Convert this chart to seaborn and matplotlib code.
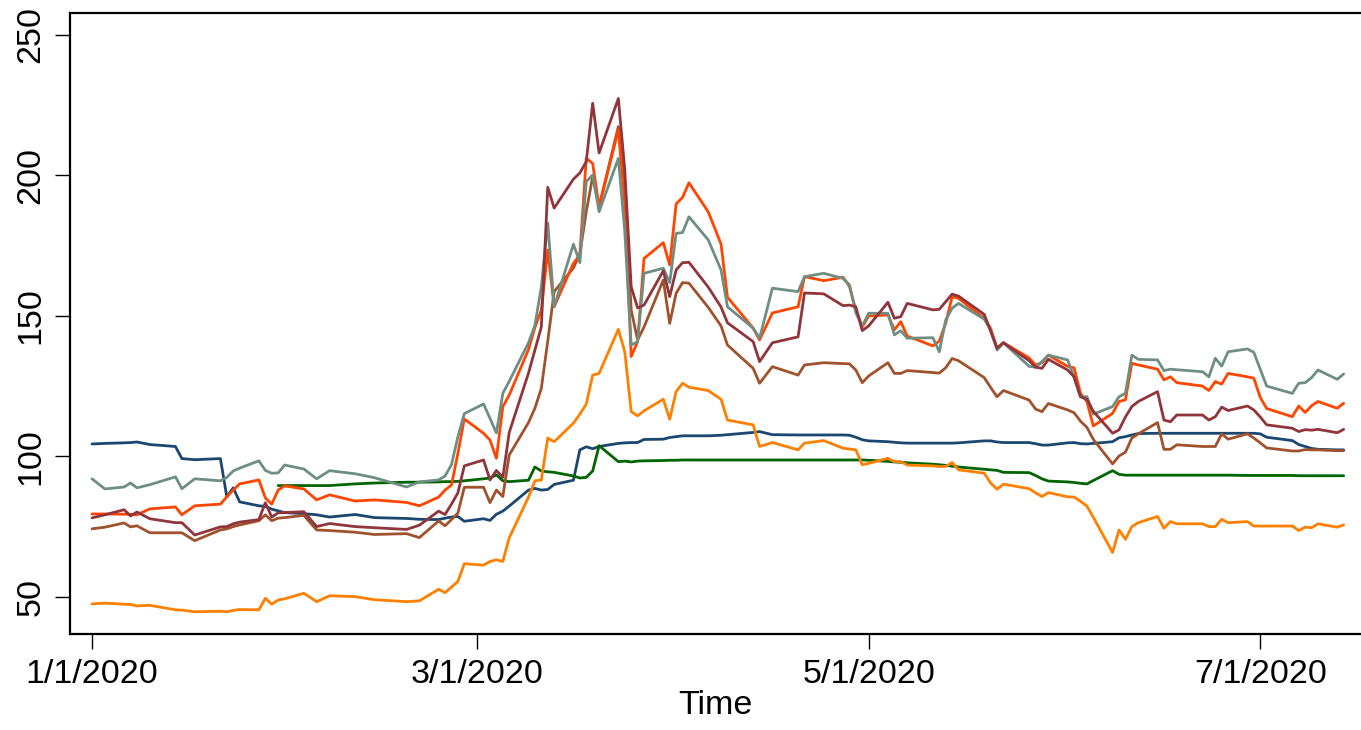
import numpy as np
import pandas as pd
import seaborn as sns
import matplotlib.pyplot as plt

nan = np.nan

# observation days per month (2020)
jan = [1, 3, 6, 7, 8, 10, 14, 15, 17, 21, 22, 23, 24, 27, 28, 29, 30, 31]
feb = [3, 5, 7, 11, 14, 19, 21, 24, 25, 26, 27, 28]
mar = [2, 3, 4, 5, 6, 9, 10, 11, 12, 13, 16, 17, 18, 19, 20, 23, 24, 25, 26, 27, 30, 31]
apr = [1, 2, 3, 6, 8, 9, 13, 14, 16, 20, 21, 24, 27, 28, 29, 30]
may = [1, 4, 5, 6, 7, 11, 12, 13, 14, 15, 19, 20, 21, 22, 26, 27, 28, 29]
jun = [1, 2, 3, 4, 5, 8, 9, 10, 11, 12, 15, 16, 17, 18, 22, 23, 24, 25, 26, 29, 30]
jul = [1, 2, 6, 7, 8, 9, 10, 13, 14]
month_days = {1: jan, 2: feb, 3: mar, 4: apr, 5: may, 6: jun, 7: jul}

navy = ([104.4, 104.6, 104.8, 104.9, 105.1, 104.2, 103.5, 99.2, 98.8, 99.2, 85.6, 88.8, 83.8, 82.4, 82.2, 81.2, 80.6, 80.0]
        + [79.6, 79.2, 78.4, 79.3, 78.2, 77.9, 77.6, 77.5, 78.0, 78.4, 78.6, 76.9]
        + [77.8, 77.2, 79.4, 80.5, 82.3, 88.0, 88.6, 88.0, 88.2, 90.0, 91.5, 102.3, 103.4, 102.7, 103.5, 104.6, 104.8, 104.9, 104.9, 106.0, 106.1, 106.7]
        + [107.0, 107.3, 107.3, 107.3, 107.5, 107.7, 108.5, 108.8, 107.7, 107.6, 107.6, 107.6, 107.6, 107.5, 106.8, 105.9]
        + [105.5, 105.2, 105.0, 104.8, 104.7, 104.7, 104.7, 104.7, 104.7, 104.8, 105.5, 105.5, 105.1, 104.9, 104.9, 104.5, 104.0, 104.0]
        + [104.8, 104.9, 104.5, 104.4, 104.6, 105.2, 106.6, 107.0, 107.6, 108.1, 108.2, 108.2, 108.2, 108.2, 108.2, 108.2, 108.2, 108.2, 108.2, 108.2, 108.2]
        + [108.0, 106.8, 105.6, 104.2, 103.5, 102.8, 102.5, 102.3, 102.3])

green = ([nan] * 16 + [89.6, 89.6]
         + [89.6, 89.6, 89.6, 90.2, 90.5, 90.8, 90.8, 90.9, 91.0, 91.0, 91.1, 91.3]
         + [92.0, 92.3, 93.4, 91.3, 91.0, 91.5, 96.2, 94.8, 94.5, 94.3, 93.0, 92.3, 92.5, 94.8, 103.8, 98.1, 98.3, 98.0, 98.3, 98.4, 98.5, 98.6]
         + [98.6, 98.7, 98.7, 98.7, 98.7, 98.7, 98.7, 98.7, 98.7, 98.7, 98.7, 98.7, 98.7, 98.7, 98.7, 98.7]
         + [98.6, 98.2, 98.0, 97.9, 97.7, 97.2, 97.0, 96.8, 96.5, 96.2, 95.4, 95.2, 95.0, 94.3, 94.2, 93.2, 92.0, 91.2]
         + [90.9, 90.7, 90.4, 90.2, 91.4, 94.9, 93.6, 93.3, 93.3, 93.3, 93.3, 93.3, 93.3, 93.3, 93.3, 93.3, 93.3, 93.3, 93.3, 93.2, 93.2]
         + [93.2, 93.2, 93.2, 93.1, 93.1, 93.1, 93.1, 93.1, 93.1])

orange = ([47.5, 47.8, 47.4, 47.3, 46.8, 47.0, 45.4, 45.3, 44.7, 44.9, 44.7, 45.2, 45.5, 45.4, 49.5, 47.4, 48.9, 49.3]
          + [51.3, 48.3, 50.4, 50.1, 49.0, 48.3, 48.6, 52.7, 51.5, 53.5, 55.5, 61.8]
          + [61.3, 62.6, 63.2, 62.6, 71.0, 85.5, 91.3, 91.6, 106.5, 105.2, 111.8, 115.0, 118.6, 128.9, 129.5, 145.2, 137.2, 115.9, 114.4, 116.2, 120.3, 113.2]
          + [123.0, 126.0, 124.6, 123.4, 120.3, 112.9, 111.2, 103.5, 104.9, 102.3, 104.7, 105.6, 102.9, 102.6, 102.3, 97.0]
          + [97.5, 99.3, 98.1, 98.1, 96.9, 96.6, 96.4, 96.4, 97.8, 95.2, 94.0, 90.5, 88.3, 90.1, 88.5, 87.0, 85.7, 87.1]
          + [85.6, 85.5, 84.0, 82.3, 78.3, 65.8, 73.8, 70.5, 75.0, 76.4, 78.6, 74.4, 76.8, 76.0, 76.0, 75.0, 75.0, 77.6, 76.4, 76.8, 75.2]
          + [75.2, 75.2, 75.2, 73.6, 74.8, 74.6, 76.0, 74.8, 75.6])

orangered = ([79.5, 79.5, 79.4, 79.4, 79.2, 81.3, 82.0, 79.2, 82.4, 83.0, 85.6, 88.0, 90.2, 91.6, 85.2, 83.0, 88.0, 89.5]
             + [88.4, 84.5, 86.3, 84.1, 84.5, 83.6, 82.4, 85.5, 88.0, 89.8, 101.0, 113.3]
             + [108.2, 105.8, 99.3, 117.7, 121.8, 138.0, 145.8, 152.0, 173.4, 153.2, 168.7, 171.6, 206.0, 204.2, 188.8, 216.1, 190.0, 135.5, 140.8, 170.4, 176.0, 168.1]
             + [189.8, 192.1, 197.3, 187.0, 175.5, 156.6, 145.6, 141.4, 151.0, 153.2, 163.9, 162.5, 163.7, 160.5, 152.0, 146.0]
             + [149.9, 150.3, 145.0, 147.9, 142.8, 139.3, 141.0, 147.3, 156.8, 156.2, 149.1, 145.5, 138.4, 140.4, 135.0, 132.5, 133.3, 136.0]
             + [132.0, 131.5, 122.4, 119.5, 110.8, 115.3, 119.5, 120.1, 133.1, 132.5, 131.0, 127.2, 128.3, 126.2, 125.0, 123.4, 126.6, 125.7, 129.5, 128.3, 127.8]
             + [121.0, 117.0, 114.1, 117.9, 115.6, 118.0, 119.5, 117.1, 118.9])

teal = ([92.0, 88.4, 89.1, 90.5, 88.8, 89.9, 92.7, 88.5, 92.0, 91.3, 92.5, 94.8, 95.8, 98.4, 95.0, 94.0, 94.1, 96.9]
        + [95.5, 92.0, 94.9, 93.8, 92.4, 89.1, 90.9, 91.6, 93.0, 97.0, 106.9, 115.2]
        + [118.6, 113.5, 108.3, 122.4, 126.7, 140.4, 146.6, 160.3, 183.0, 153.2, 175.5, 168.9, 197.7, 200.1, 187.0, 206.0, 180.0, 139.6, 140.8, 165.1, 166.9, 161.8]
        + [179.3, 179.6, 185.2, 177.0, 166.3, 153.2, 145.6, 142.0, 159.8, 158.6, 163.9, 165.1, 163.3, 161.0, 151.0, 146.4]
        + [150.9, 150.9, 143.2, 144.7, 142.0, 142.2, 137.2, 148.5, 152.7, 154.4, 148.8, 145.0, 137.8, 140.4, 132.0, 131.7, 133.7, 136.0]
        + [134.3, 128.0, 121.2, 121.2, 115.0, 117.7, 121.2, 122.4, 136.0, 134.5, 134.3, 130.5, 131.0, 130.8, 130.1, 128.3, 134.9, 132.1, 137.2, 138.2, 137.0]
        + [131.0, 125.0, 122.4, 126.0, 126.2, 128.0, 130.7, 127.4, 129.3])

maroon = ([78.1, 79.2, 81.0, 78.8, 80.2, 77.8, 76.4, 76.4, 72.0, 74.9, 75.0, 76.0, 76.6, 77.5, 83.5, 78.4, 79.9, 80.0]
          + [80.3, 75.0, 76.1, 75.0, 74.6, 74.0, 75.5, 80.5, 79.3, 83.0, 87.0, 96.6]
          + [98.7, 91.6, 95.0, 92.5, 108.5, 129.6, 137.8, 146.0, 195.7, 188.3, 198.6, 200.8, 204.8, 225.6, 207.9, 227.3, 201.9, 160.3, 152.8, 153.8, 166.0, 156.8]
          + [166.3, 168.9, 169.0, 160.2, 153.1, 147.5, 140.8, 133.7, 140.4, 142.5, 158.1, 157.8, 153.6, 153.8, 153.2, 144.7]
          + [146.4, 154.8, 149.1, 149.7, 154.4, 152.1, 152.3, 155.0, 157.7, 157.0, 150.5, 144.5, 138.5, 140.4, 134.0, 131.7, 131.3, 134.5]
          + [130.7, 128.3, 121.2, 120.3, 116.0, 108.2, 109.4, 114.0, 117.7, 119.5, 123.0, 112.9, 112.3, 114.7, 114.7, 112.9, 114.1, 117.5, 116.3, 117.9, 116.5]
          + [114.0, 111.2, 110.0, 108.8, 109.5, 109.3, 109.6, 108.4, 109.6])

sienna = ([74.2, 74.8, 76.3, 74.9, 75.3, 72.8, 72.8, 72.8, 70.0, 73.8, 74.2, 75.0, 75.6, 77.1, 79.2, 77.1, 78.0, 78.2]
          + [79.0, 73.8, 73.6, 73.0, 72.2, 72.5, 71.1, 77.0, 75.3, 77.5, 79.8, 89.0]
          + [89.0, 83.5, 88.0, 85.7, 100.5, 112.0, 117.1, 124.2, 141.0, 158.6, 167.0, 172.0, 187.0, 199.5, 188.8, 217.3, 193.6, 152.0, 141.4, 146.0, 162.7, 147.3]
          + [158.0, 161.8, 161.6, 153.0, 146.4, 139.6, 131.3, 126.0, 131.9, 128.9, 132.5, 133.3, 133.0, 132.9, 130.7, 126.2]
          + [128.6, 133.3, 129.5, 129.5, 130.5, 129.8, 129.6, 131.5, 134.8, 134.0, 128.0, 124.5, 121.2, 123.4, 120.0, 116.8, 115.9, 118.8]
          + [116.5, 115.5, 112.5, 110.3, 106.0, 97.3, 100.1, 101.5, 106.5, 108.0, 112.0, 102.5, 102.5, 104.1, 103.5, 103.5, 103.5, 108.0, 106.1, 108.0, 106.5]
          + [104.8, 103.0, 101.9, 101.9, 102.4, 102.3, 102.3, 102.0, 102.0])

tick_dates = ["2020-01-01", "2020-03-01", "2020-05-01", "2020-07-01"]
tick_labels = ["1/1/2020", "3/1/2020", "5/1/2020", "7/1/2020"]
y_ticks = [50, 100, 150, 200, 250]

palette = {
    "navy": "#1a476f",
    "green": "#006400",
    "orange": "#ff8000",
    "orangered": "#ff4500",
    "teal": "#6e8e84",
    "maroon": "#90353b",
    "sienna": "#a0522d",
}
order = ["navy", "green", "orange", "sienna", "orangered", "teal", "maroon"]

#%% build long table
dates = pd.to_datetime([f"2020-{m:02d}-{d:02d}" for m, ds in month_days.items() for d in ds])
df = pd.DataFrame({"Time": dates, "navy": navy, "green": green, "orange": orange,
                   "orangered": orangered, "teal": teal, "maroon": maroon, "sienna": sienna})
long_df = df.melt(id_vars="Time", var_name="series", value_name="value").dropna()

#%% plot
sns.set_style("white")
plt.rcParams["font.family"] = ["Liberation Sans", "DejaVu Sans"]
plt.rcParams["text.color"] = "black"
plt.rcParams["axes.labelcolor"] = "black"
plt.rcParams["xtick.color"] = "black"
plt.rcParams["ytick.color"] = "black"

fig = plt.figure(figsize=(13.61, 7.30), dpi=100)
ax = fig.add_axes([70 / 1361, 96 / 730, 1291 / 1361, 621 / 730])

sns.lineplot(data=long_df, x="Time", y="value", hue="series", hue_order=order,
             palette=palette, estimator=None, linewidth=2.0, legend=False, ax=ax)

start = pd.Timestamp("2020-01-01")
ax.set_xlim(start - pd.Timedelta(days=3.43), start + pd.Timedelta(days=197.7))
ax.set_ylim(36.8, 257.7)

ax.set_xticks(pd.to_datetime(tick_dates))
ax.set_xticklabels(tick_labels)
ax.set_yticks(y_ticks)
ax.set_yticklabels([str(v) for v in y_ticks], rotation=90, va="center")

ax.tick_params(axis="x", length=11, width=1, pad=7, labelsize=24.5, colors="black", direction="out", bottom=True)
ax.tick_params(axis="y", length=11, width=1, pad=6, labelsize=24.5, colors="black", direction="out", left=True)

for side in ["left", "bottom", "top"]:
    ax.spines[side].set_visible(True)
    ax.spines[side].set_color("black")
    ax.spines[side].set_linewidth(1.6)
ax.spines["right"].set_visible(False)

ax.set_xlabel("Time", fontsize=24.5, labelpad=0, color="black")
ax.set_ylabel("")

fig.savefig("out.png", dpi=100)
